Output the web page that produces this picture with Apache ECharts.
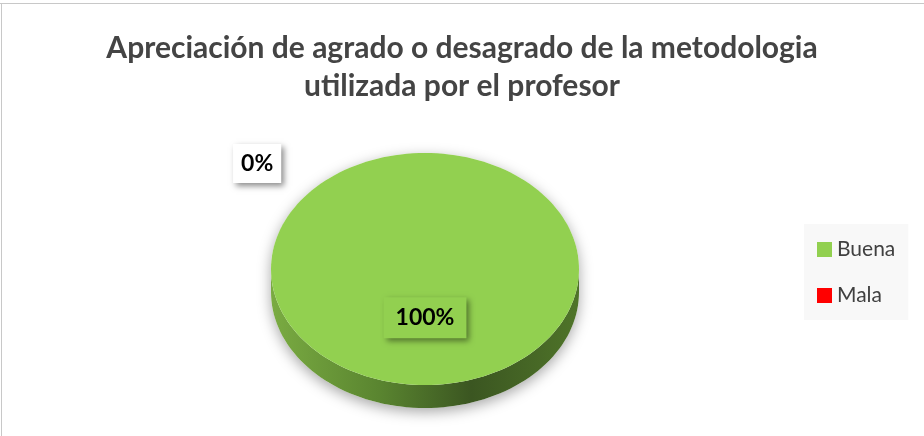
<!DOCTYPE html>
<html>
<head>
<meta charset="utf-8">
<script src="https://cdn.jsdelivr.net/npm/echarts@6/dist/echarts.min.js"></script>
<style>
  html, body { margin: 0; padding: 0; background: #fff; }
  #chart { width: 924px; height: 436px; }
</style>
</head>
<body>
<div id="chart"></div>
<script>
// datos del grafico
const titleText = 'Apreciación de agrado o desagrado de la metodologia\nutilizada por el profesor'
const categories = ['Buena', 'Mala']
const values = [100, 0]
const colors = ['#92d050', '#ff0000']

// geometria de la torta 3D (elipse)
const pie = { cx: 425, cy: 269, rx: 154, ry: 116, depth: 23 }

function arcPoints (a0, a1, dy, steps) {
  const pts = []
  for (let s = 0; s <= steps; s++) {
    const t = a0 + (a1 - a0) * s / steps
    pts.push([pie.cx + pie.rx * Math.cos(t), pie.cy + pie.ry * Math.sin(t) + dy])
  }
  return pts
}

function renderSlice (idx) {
  return function (params, api) {
    const total = values.reduce((a, b) => a + b, 0)
    let before = 0
    for (let k = 0; k < idx; k++) before += values[k]
    const v = api.value(0)
    const pct = Math.round(v / total * 100) + '%'
    const a0 = -Math.PI / 2 + before / total * Math.PI * 2
    const a1 = a0 + v / total * Math.PI * 2
    const children = []

    if (v > 0) {
      const full = v === total
      // sombra bajo la torta
      const silhouette = arcPoints(0, Math.PI, pie.depth, 60)
        .concat(arcPoints(Math.PI, Math.PI * 2, 0, 60))
      children.push({
        type: 'polygon',
        z2: 0,
        shape: { points: silhouette },
        style: {
          fill: '#ffffff',
          shadowBlur: 14,
          shadowColor: 'rgba(0,0,0,0.35)',
          shadowOffsetY: 4
        }
      })
      // lado frontal
      const s0 = Math.max(a0, 0)
      const s1 = Math.min(a1, Math.PI)
      if (s1 > s0) {
        const top = arcPoints(s0, s1, 0, 80)
        const bottom = arcPoints(s0, s1, pie.depth, 80).reverse()
        children.push({
          type: 'polygon',
          z2: 1,
          shape: { points: top.concat(bottom) },
          style: {
            fill: new echarts.graphic.LinearGradient(0, 0, 1, 0, [
              { offset: 0, color: '#7aab42' },
              { offset: 0.35, color: '#5a8530' },
              { offset: 0.65, color: '#3b5621' },
              { offset: 1, color: '#4f7429' }
            ])
          }
        })
      }
      // cara superior
      const face = full ? arcPoints(a0, a1, 0, 160)
        : [[pie.cx, pie.cy]].concat(arcPoints(a0, a1, 0, 120))
      children.push({
        type: 'polygon',
        z2: 2,
        shape: { points: face },
        style: { fill: colors[idx] }
      })
    }

    // etiqueta
    let lx, ly, bg
    if (v > 0) {
      const mid = (a0 + a1) / 2
      lx = pie.cx + pie.rx * 0.42 * Math.cos(mid)
      ly = pie.cy + pie.ry * 0.42 * Math.sin(mid)
      bg = colors[idx]
    } else {
      lx = pie.cx - pie.rx * 1.09
      ly = pie.cy - pie.ry * 0.91
      bg = '#ffffff'
    }
    children.push({
      type: 'text',
      z2: 5,
      x: lx,
      y: ly,
      style: {
        text: pct,
        fill: '#000000',
        font: 'bold 23px Lato',
        align: 'center',
        verticalAlign: 'middle',
        backgroundColor: bg,
        padding: v > 0 ? [9, 12, 9, 12] : [8, 8, 8, 8],
        shadowBlur: 6,
        shadowColor: 'rgba(0,0,0,0.45)',
        shadowOffsetX: 3,
        shadowOffsetY: 3
      }
    })
    return { type: 'group', children: children }
  }
}

const chart = echarts.init(document.getElementById('chart'))
chart.setOption({
  animation: false,
  title: {
    text: titleText,
    left: 'center',
    top: 24,
    textStyle: {
      fontFamily: 'Lato',
      fontSize: 30,
      fontWeight: 'bold',
      color: '#444444',
      lineHeight: 38
    }
  },
  legend: {
    data: categories,
    orient: 'vertical',
    left: 804,
    top: 224,
    backgroundColor: '#f8f8f8',
    padding: [15, 13, 14, 13],
    itemWidth: 15,
    itemHeight: 15,
    itemGap: 25,
    icon: 'rect',
    selectedMode: false,
    textStyle: { fontFamily: 'Lato', fontSize: 21, color: '#404040' }
  },
  graphic: [
    { type: 'line', shape: { x1: 0, y1: 3.5, x2: 924, y2: 3.5 }, style: { stroke: '#c8c8c8', lineWidth: 1 } },
    { type: 'line', shape: { x1: 1.5, y1: 3, x2: 1.5, y2: 436 }, style: { stroke: '#c8c8c8', lineWidth: 1 } }
  ],
  series: categories.map((name, i) => ({
    type: 'custom',
    name: name,
    coordinateSystem: 'none',
    itemStyle: { color: colors[i] },
    renderItem: renderSlice(i),
    data: [[values[i]]]
  }))
})
</script>
</body>
</html>
